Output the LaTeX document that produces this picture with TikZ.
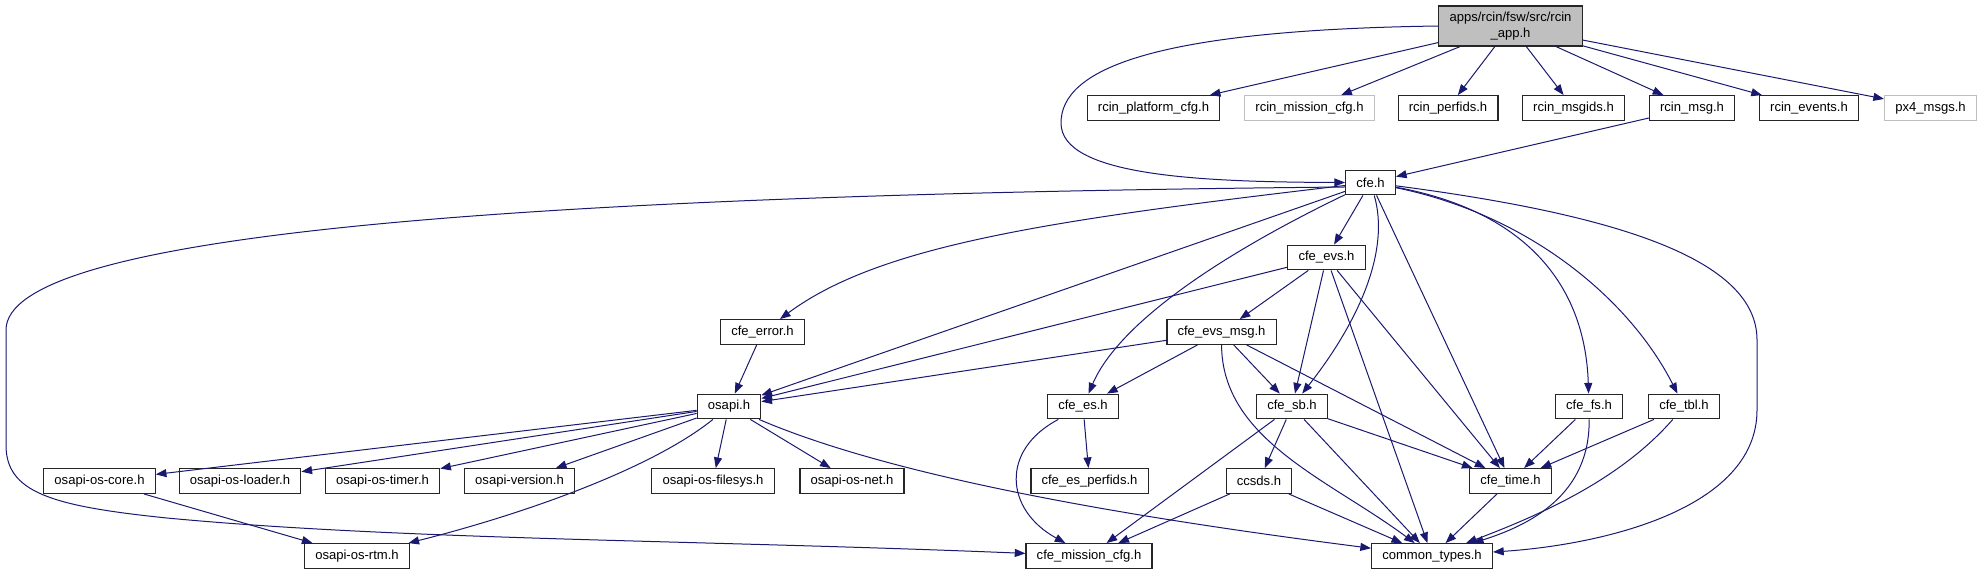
\documentclass[tikz,border=0pt]{standalone}
\usepackage{fontspec}
\setmainfont{Liberation Sans}
\usetikzlibrary{arrows.meta}
\definecolor{EdgeBlue}{HTML}{191970}
\definecolor{NodeGrey}{HTML}{BFBFBF}

\begin{document}
\begin{tikzpicture}[
  x=0.75pt, y=-0.75pt,
  font=\fontsize{9.8}{11.5}\selectfont,
  file/.style={draw=black!85, line width=0.9pt, fill=white, inner xsep=8pt, inner ysep=0pt, minimum height=18.5pt},
  extfile/.style={file, draw=NodeGrey},
  mainfile/.style={file, fill=NodeGrey, align=center, minimum height=30pt},
  arrow/.style={-{Triangle[length=8pt,width=6pt]}, line width=0.75pt, color=EdgeBlue}
]
  \useasboundingbox (0,0) rectangle (1983,575);

  \node[mainfile] (app) at (1510.5,26) {apps/rcin/fsw/src/rcin\\\_app.h};

  \node[file] (platcfg) at (1153.5,108) {rcin\_platform\_cfg.h};
  \node[extfile] (misscfg) at (1309.5,108) {rcin\_mission\_cfg.h};
  \node[file] (perfids) at (1448,108) {rcin\_perfids.h};
  \node[file] (msgids) at (1573.5,108) {rcin\_msgids.h};
  \node[file] (rmsg) at (1692,108) {rcin\_msg.h};
  \node[file] (events) at (1809,108) {rcin\_events.h};
  \node[extfile] (px4) at (1930.5,108) {px4\_msgs.h};

  \node[file] (cfe) at (1370.5,182.5) {cfe.h};
  \node[file] (evs) at (1326.5,257.5) {cfe\_evs.h};
  \node[file] (error) at (762.5,332) {cfe\_error.h};
  \node[file] (evsmsg) at (1221.5,332) {cfe\_evs\_msg.h};

  \node[file] (osapi) at (729,406.5) {osapi.h};
  \node[file] (es) at (1083,406.5) {cfe\_es.h};
  \node[file] (sb) at (1292,406.5) {cfe\_sb.h};
  \node[file] (fs) at (1589,406.5) {cfe\_fs.h};
  \node[file] (tbl) at (1684,406.5) {cfe\_tbl.h};

  \node[file] (oscore) at (99.5,481) {osapi-os-core.h};
  \node[file] (osloader) at (240,481) {osapi-os-loader.h};
  \node[file] (ostimer) at (382.5,481) {osapi-os-timer.h};
  \node[file] (osversion) at (519.5,481) {osapi-version.h};
  \node[file] (osfilesys) at (713,481) {osapi-os-filesys.h};
  \node[file] (osnet) at (852,481) {osapi-os-net.h};
  \node[file] (perf) at (1089.5,481) {cfe\_es\_perfids.h};
  \node[file] (ccsds) at (1259,481) {ccsds.h};
  \node[file] (time) at (1510.5,481) {cfe\_time.h};

  \node[file] (rtm) at (357,556) {osapi-os-rtm.h};
  \node[file] (mcfg) at (1089,556) {cfe\_mission\_cfg.h};
  \node[file] (ctypes) at (1432,556) {common\_types.h};

  % rcin_app.h
  \draw[arrow] (app) -- (platcfg);
  \draw[arrow] (app) -- (misscfg);
  \draw[arrow] (app) -- (perfids);
  \draw[arrow] (app) -- (msgids);
  \draw[arrow] (app) -- (rmsg);
  \draw[arrow] (app) -- (events);
  \draw[arrow] (app) -- (px4);
  \draw[arrow] (app.west) .. controls (1150,30) and (1061,70) .. (1061,123)
    .. controls (1061,176) and (1200,182) .. (cfe.west);
  \draw[arrow] (rmsg) -- (cfe);

  % cfe.h
  \draw[arrow] (cfe) -- (evs);
  \draw[arrow] (cfe) -- (osapi);
  \draw[arrow] (cfe) -- (time);
  \draw[arrow] (cfe) .. controls (1050,220) and (880,245) .. (error);
  \draw[arrow] (cfe) .. controls (1230,250) and (1120,320) .. (es);
  \draw[arrow] (cfe) .. controls (1390,250) and (1360,320) .. (sb);
  \draw[arrow] (cfe) .. controls (1520,210) and (1585,280) .. (fs);
  \draw[arrow] (cfe) .. controls (1530,215) and (1630,300) .. (tbl);
  \draw[arrow] (cfe) .. controls (1620,215) and (1757,260) .. (1757,340) -- (1757,410)
    .. controls (1757,510) and (1600,545) .. (ctypes);
  \draw[arrow] (cfe.190) .. controls (500,195) and (6,235) .. (6,330) -- (6,445)
    .. controls (6,492) and (50,506) .. (167,518)
    .. controls (400,540) and (700,540) .. (mcfg);

  % cfe_evs.h
  \draw[arrow] (evs) -- (evsmsg);
  \draw[arrow] (evs) -- (osapi);
  \draw[arrow] (evs) -- (sb);
  \draw[arrow] (evs) -- (ctypes);
  \draw[arrow] (evs) -- (time);

  % cfe_evs_msg.h
  \draw[arrow] (evsmsg) -- (osapi);
  \draw[arrow] (evsmsg) -- (es);
  \draw[arrow] (evsmsg) -- (sb);
  \draw[arrow] (evsmsg) -- (time);
  \draw[arrow] (evsmsg) .. controls (1222,440) and (1330,480) .. (ctypes);

  \draw[arrow] (error) -- (osapi);

  % osapi.h
  \draw[arrow] (osapi) -- (oscore);
  \draw[arrow] (osapi) -- (osloader);
  \draw[arrow] (osapi) -- (ostimer);
  \draw[arrow] (osapi) -- (osversion);
  \draw[arrow] (osapi) -- (osfilesys);
  \draw[arrow] (osapi) -- (osnet);
  \draw[arrow] (osapi) .. controls (650,470) and (520,515) .. (rtm);
  \draw[arrow] (osapi) .. controls (900,480) and (1150,520) .. (ctypes);
  \draw[arrow] (oscore) -- (rtm);

  % cfe_es.h, cfe_sb.h and the rest
  \draw[arrow] (es) -- (perf);
  \draw[arrow] (es) .. controls (1000,450) and (1005,510) .. (mcfg);
  \draw[arrow] (sb) -- (ccsds);
  \draw[arrow] (sb) -- (mcfg);
  \draw[arrow] (sb) -- (ctypes);
  \draw[arrow] (sb) -- (time);
  \draw[arrow] (ccsds) -- (mcfg);
  \draw[arrow] (ccsds) -- (ctypes);
  \draw[arrow] (time) -- (ctypes);
  \draw[arrow] (fs) -- (time);
  \draw[arrow] (fs) .. controls (1590,495) and (1530,525) .. (ctypes);
  \draw[arrow] (tbl) -- (time);
  \draw[arrow] (tbl) .. controls (1620,480) and (1540,515) .. (ctypes);
\end{tikzpicture}
\end{document}
